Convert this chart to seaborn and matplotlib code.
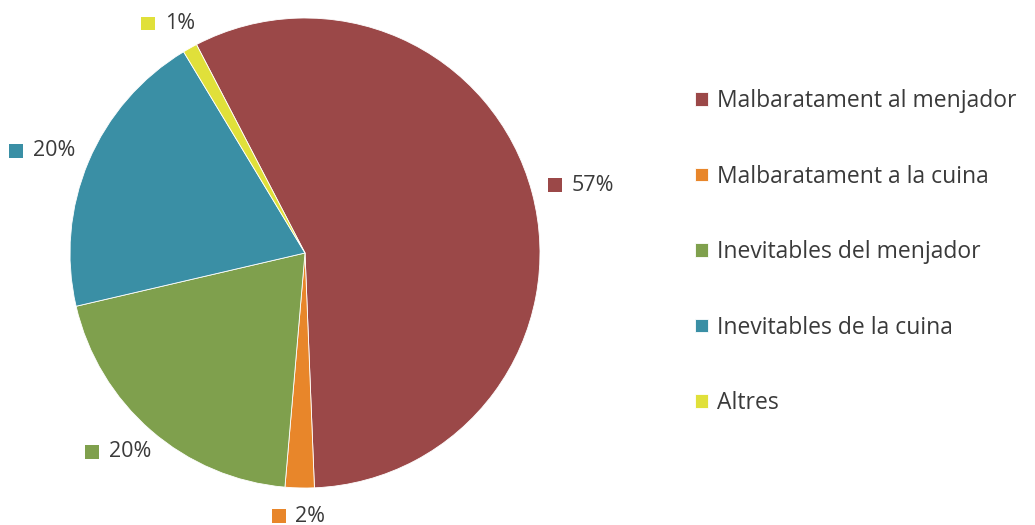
import numpy as np
import matplotlib
matplotlib.use("Agg")
import matplotlib.pyplot as plt
import seaborn as sns
from matplotlib.offsetbox import HPacker, DrawingArea, TextArea, AnnotationBbox
from matplotlib.patches import Rectangle

categories = ["Malbaratament al menjador", "Malbaratament a la cuina",
              "Inevitables del menjador", "Inevitables de la cuina", "Altres"]
values = [57, 2, 20, 20, 1]
pct_labels = ["57%", "2%", "20%", "20%", "1%"]
colors = ["#9B4848", "#E8862A", "#7FA04D", "#3A8FA5", "#E0E03A"]

sns.set_theme(style="white")
plt.rcParams["font.family"] = ["Open Sans", "DejaVu Sans"]
text_color = "#3a3a3a"

fig = plt.figure(figsize=(10.35, 5.25), dpi=100)
ax = fig.add_axes([70 / 1035, 37 / 525, 470 / 1035, 470 / 525])

wedges, _ = ax.pie(values, colors=colors, startangle=117.5, counterclock=False,
                   wedgeprops=dict(linewidth=0.6, edgecolor="white"))
ax.set_xlim(-1, 1)
ax.set_ylim(-1, 1)
ax.set_aspect("equal")
ax.axis("off")

label_r = 1.075
for w, lab, col in zip(wedges, pct_labels, colors):
    mid = np.deg2rad((w.theta1 + w.theta2) / 2)
    c, s = np.cos(mid), np.sin(mid)
    x, y = label_r * c, label_r * s
    da = DrawingArea(10, 10, 0, 0)
    da.add_artist(Rectangle((0, 0), 10, 10, facecolor=col, edgecolor="none"))
    ta = TextArea(lab, textprops=dict(fontsize=15.5, color=text_color))
    box = HPacker(children=[da, ta], align="center", pad=0, sep=7)
    ab = AnnotationBbox(box, (x, y), xycoords="data", frameon=False,
                        box_alignment=(0.5 - 0.5 * c, 0.5 - 0.5 * s),
                        annotation_clip=False)
    ax.add_artist(ab)

leg = fig.legend(wedges, categories, loc="upper left",
                 bbox_to_anchor=(695 / 1035, 1 - 89 / 525),
                 frameon=False, fontsize=16.5, labelcolor=text_color,
                 handlelength=0.55, handleheight=0.55, handletextpad=0.4,
                 labelspacing=2.25, borderaxespad=0, borderpad=0)

fig.savefig("out.png", dpi=100, facecolor="white")
